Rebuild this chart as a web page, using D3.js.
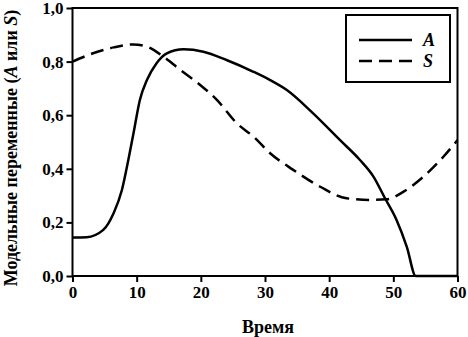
<!DOCTYPE html>
<html>
<head>
<meta charset="utf-8">
<script src="https://cdn.jsdelivr.net/npm/d3@7"></script>
<style>
  html, body { margin: 0; padding: 0; background: #fff; }
  svg { display: block; }
  text { font-family: "Liberation Serif", "Times New Roman", serif; fill: #000; }
</style>
</head>
<body>
<svg id="chart" width="468" height="337"></svg>
<script>
// Model variables over time
const timeA = [0, 2.2, 4.8, 6.4, 7.7, 8.7, 9.5, 10.5, 11.6, 13.1, 14.7, 17.3, 20.4, 24.0, 28.2, 30.8, 33.4, 37.5, 41.7, 44.8, 46.9, 48.7, 50.5, 52.1, 53.5, 60];
const valuesA = [0.144, 0.145, 0.172, 0.234, 0.321, 0.433, 0.532, 0.657, 0.731, 0.794, 0.831, 0.846, 0.837, 0.806, 0.762, 0.731, 0.694, 0.607, 0.507, 0.433, 0.371, 0.290, 0.209, 0.109, 0, 0];

const timeS = [0, 3.2, 6.4, 9.5, 11.6, 14.2, 16.8, 19.9, 22.5, 25.6, 28.2, 30.8, 34.4, 38.6, 42.7, 46.4, 49.0, 51.6, 54.7, 57.8, 60];
const valuesS = [0.800, 0.831, 0.853, 0.864, 0.856, 0.818, 0.769, 0.713, 0.657, 0.570, 0.520, 0.458, 0.396, 0.333, 0.290, 0.284, 0.286, 0.315, 0.371, 0.445, 0.507];

const xTicks = [0, 10, 20, 30, 40, 50, 60];
const yTicks = [0, 0.2, 0.4, 0.6, 0.8, 1.0];
const seriesNames = ["A", "S"];

const SERIF = "'Liberation Serif', 'Times New Roman', serif";

const svg = d3.select("#chart");
const mLeft = 72.5, mRight = 457.5, mTop = 8, mBottom = 276;

const x = d3.scaleLinear().domain([0, 60]).range([mLeft, mRight]);
const y = d3.scaleLinear().domain([0, 1]).range([mBottom, mTop]);

const fmtY = d => d3.format(".1f")(d).replace(".", ",");

// Axes
const xAxis = svg.append("g")
  .attr("transform", `translate(0,${mBottom})`)
  .call(d3.axisBottom(x).tickValues(xTicks).tickSize(6).tickPadding(4).tickFormat(d3.format("d")));
const yAxis = svg.append("g")
  .attr("transform", `translate(${mLeft},0)`)
  .call(d3.axisLeft(y).tickValues(yTicks).tickSize(6).tickPadding(3).tickFormat(fmtY));

[xAxis, yAxis].forEach(g => {
  g.attr("font-family", SERIF).attr("font-size", 17);
  g.select(".domain").remove();
  g.selectAll(".tick line").attr("stroke", "#000").attr("stroke-width", 2);
  g.selectAll(".tick text")
    .style("font-family", SERIF)
    .style("font-size", "17px")
    .style("font-weight", "bold")
    .attr("fill", "#000");
});

// Plot frame
svg.append("rect")
  .attr("x", mLeft).attr("y", mTop)
  .attr("width", mRight - mLeft).attr("height", mBottom - mTop)
  .attr("fill", "none").attr("stroke", "#000").attr("stroke-width", 2);

// Curves
const line = d3.line().x(d => x(d[0])).y(d => y(d[1])).curve(d3.curveMonotoneX);

svg.append("path")
  .datum(d3.zip(timeA, valuesA))
  .attr("d", line)
  .attr("fill", "none").attr("stroke", "#000").attr("stroke-width", 2.5);

svg.append("path")
  .datum(d3.zip(timeS, valuesS))
  .attr("d", line)
  .attr("fill", "none").attr("stroke", "#000").attr("stroke-width", 2.5)
  .attr("stroke-dasharray", "13,7");

// Legend
const lg = svg.append("g");
lg.append("rect")
  .attr("x", 346).attr("y", 15).attr("width", 104).attr("height", 67)
  .attr("fill", "#fff").attr("stroke", "#000").attr("stroke-width", 2);
seriesNames.forEach((name, i) => {
  const ly = 40 + i * 21;
  lg.append("line")
    .attr("x1", 359).attr("x2", 412).attr("y1", ly).attr("y2", ly)
    .attr("stroke", "#000").attr("stroke-width", 2.5)
    .attr("stroke-dasharray", i === 1 ? "13,7" : null);
  lg.append("text")
    .attr("x", 423).attr("y", ly + 6)
    .style("font-family", SERIF)
    .style("font-size", "18px").style("font-style", "italic").style("font-weight", "bold")
    .text(name);
});

// Axis titles
svg.append("text")
  .attr("x", 268).attr("y", 333)
  .attr("text-anchor", "middle")
  .style("font-family", SERIF)
  .style("font-size", "18px")
  .style("font-weight", "bold")
  .text("Время");

const yt = svg.append("text")
  .attr("transform", `translate(17,148) rotate(-90)`)
  .attr("text-anchor", "middle")
  .style("font-family", SERIF)
  .style("font-size", "18px")
  .style("font-weight", "bold");
yt.append("tspan").text("Модельные переменные (");
yt.append("tspan").style("font-style", "italic").text("A");
yt.append("tspan").text(" или ");
yt.append("tspan").style("font-style", "italic").text("S");
yt.append("tspan").text(")");
</script>
</body>
</html>
